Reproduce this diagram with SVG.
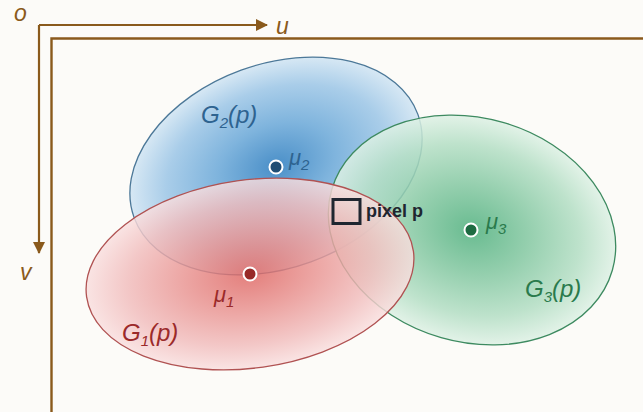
<svg xmlns="http://www.w3.org/2000/svg" width="643" height="412" viewBox="0 0 643 412">
<defs>
<style>
.ax{stroke:#8a5a1c;stroke-width:2.2;fill:none}
.axl{fill:#8a5a1c;font-family:"Liberation Sans",Arial,sans-serif;font-style:italic;font-size:23px}
.lbl{font-family:"Liberation Sans",Arial,sans-serif;font-style:italic;font-size:24px}
.mu{font-family:"Liberation Sans",Arial,sans-serif;font-style:italic;font-size:22px}
.sub{font-size:15px}
.dot{stroke:#fff;stroke-width:2}
</style>
<marker id="ah" viewBox="0 0 12 12" refX="11" refY="6" markerWidth="12" markerHeight="12" markerUnits="userSpaceOnUse" orient="auto">
<path d="M0,0 L12,6 L0,12 Z" fill="#8a5a1c"/>
</marker>
<radialGradient id="gb" cx="0.5" cy="0.5" r="0.5">
<stop offset="0" stop-color="#4a8fc8"/>
<stop offset="0.4" stop-color="#7fb4dd"/>
<stop offset="0.75" stop-color="#a9cde9"/>
<stop offset="1" stop-color="#d7e8f4"/>
</radialGradient>
<radialGradient id="gr" cx="0.5" cy="0.5" r="0.5">
<stop offset="0" stop-color="#de6461"/>
<stop offset="0.4" stop-color="#e99391"/>
<stop offset="0.75" stop-color="#f1bcbc"/>
<stop offset="1" stop-color="#f9dfdf"/>
</radialGradient>
<radialGradient id="gg" cx="0.5" cy="0.5" r="0.5">
<stop offset="0" stop-color="#4fb07e"/>
<stop offset="0.4" stop-color="#84c8a2"/>
<stop offset="0.75" stop-color="#b3dec4"/>
<stop offset="1" stop-color="#def1e5"/>
</radialGradient>
</defs>
<rect width="643" height="412" fill="#fcfbf8"/>
<g id="axes">
<path class="ax" d="M39,25 H267" marker-end="url(#ah)"/>
<path class="ax" d="M39,25 V253" marker-end="url(#ah)"/>
<text class="axl" x="14" y="21">o</text>
<text class="axl" x="276" y="34">u</text>
<text class="axl" x="20" y="280">v</text>
</g>
<g id="frame">
<path d="M643,38.5 H51.5 V412" stroke="#8a5a1c" stroke-width="2.4" fill="none"/>
</g>
<g id="G2">
<ellipse cx="276" cy="166" rx="151" ry="102" transform="rotate(-20 276 166)" fill="url(#gb)" stroke="#4c7898" stroke-width="1.3"/>
<circle class="dot" cx="276" cy="167" r="6.5" fill="#1f4e75"/>
<text class="lbl" x="201" y="123" fill="#2e6390">G<tspan class="sub" dy="5">2</tspan><tspan dy="-5">(p)</tspan></text>
<text class="mu" x="289" y="165" fill="#2e6390">μ<tspan class="sub" dy="5">2</tspan></text>
</g>
<g id="G3">
<ellipse cx="472" cy="230" rx="146" ry="112" transform="rotate(16 472 230)" fill="url(#gg)" fill-opacity="0.85" stroke="#3d8a60" stroke-width="1.3"/>
<circle class="dot" cx="471" cy="230" r="6.5" fill="#1e6b42"/>
<text class="lbl" x="525" y="297" fill="#2a7a4c">G<tspan class="sub" dy="5">3</tspan><tspan dy="-5">(p)</tspan></text>
<text class="mu" x="486" y="229" fill="#2a7a4c">μ<tspan class="sub" dy="5">3</tspan></text>
</g>
<g id="G1">
<ellipse cx="250" cy="274" rx="165" ry="94" transform="rotate(-8 250 274)" fill="url(#gr)" fill-opacity="0.82" stroke="#b05252" stroke-width="1.3"/>
<circle class="dot" cx="250" cy="274" r="6.5" fill="#982a28"/>
<text class="lbl" x="122" y="341" fill="#9b2a2a">G<tspan class="sub" dy="5">1</tspan><tspan dy="-5">(p)</tspan></text>
<text class="mu" x="214" y="302" fill="#9b2a2a">μ<tspan class="sub" dy="5">1</tspan></text>
</g>
<g id="pixel">
<rect x="333" y="199.5" width="27" height="24" fill="none" stroke="#1f2630" stroke-width="3"/>
<text x="366" y="217" font-family="Liberation Sans,Arial,sans-serif" font-weight="bold" font-size="18" fill="#1f2630">pixel p</text>
</g>
</svg>
